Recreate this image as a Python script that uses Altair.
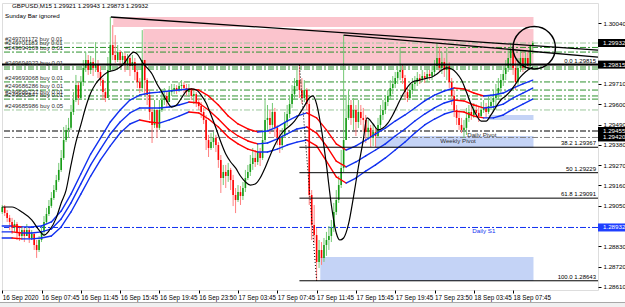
import altair as alt
import pandas as pd

FONT = "Liberation Sans"

# ---------------- price data (GBPUSD M15), bar index 0..216 ----------------
first_open = 1.29016
closes = [
    1.29043, 1.29011, 1.28984, 1.28962, 1.28930, 1.28951, 1.28907, 1.28886, 1.28918, 1.28886,
    1.28918, 1.28875, 1.28897, 1.28837, 1.28810, 1.28864, 1.28907, 1.28962, 1.29005, 1.29049,
    1.29092, 1.29135, 1.29189, 1.29244, 1.29309, 1.29406, 1.29461, 1.29472, 1.29558, 1.29623,
    1.29704, 1.29634, 1.29720, 1.29797, 1.29840, 1.29786, 1.29829, 1.29797, 1.29818, 1.29775,
    1.29731, 1.29666, 1.29634, 1.29786, 1.29921, 1.29867, 1.29840, 1.29883, 1.29840, 1.29862,
    1.29818, 1.29851, 1.29808, 1.29829, 1.29775, 1.29720, 1.29688, 1.29840, 1.29731, 1.29650,
    1.29558, 1.29488, 1.29569, 1.29472, 1.29569, 1.29623, 1.29645, 1.29612, 1.29666, 1.29677,
    1.29688, 1.29677, 1.29699, 1.29704, 1.29688, 1.29666, 1.29677, 1.29645, 1.29655, 1.29612,
    1.29590, 1.29558, 1.29515, 1.29406, 1.29363, 1.29395, 1.29418, 1.29379, 1.29298, 1.29200,
    1.29233, 1.29211, 1.29244, 1.29189, 1.29108, 1.29081, 1.29124, 1.29103, 1.29146, 1.29200,
    1.29233, 1.29276, 1.29309, 1.29287, 1.29341, 1.29309, 1.29406, 1.29515, 1.29526, 1.29488,
    1.29558, 1.29472, 1.29418, 1.29379, 1.29428, 1.29504, 1.29547, 1.29601, 1.29655, 1.29699,
    1.29731, 1.29677, 1.29634, 1.29677, 1.29601, 1.29108, 1.28946, 1.28891, 1.28745, 1.28810,
    1.28767, 1.28837, 1.28864, 1.28886, 1.28930, 1.29016, 1.29081, 1.29162, 1.29255, 1.29406,
    1.29526, 1.29596, 1.29526, 1.29569, 1.29504, 1.29558, 1.29526, 1.29515, 1.29450, 1.29472,
    1.29418, 1.29450, 1.29428, 1.29488, 1.29542, 1.29569, 1.29612, 1.29645, 1.29688, 1.29710,
    1.29742, 1.29775, 1.29786, 1.29742, 1.29666, 1.29634, 1.29677, 1.29710, 1.29720, 1.29742,
    1.29731, 1.29753, 1.29742, 1.29764, 1.29753, 1.29775, 1.29807, 1.29851, 1.29797, 1.29829,
    1.29786, 1.29807, 1.29720, 1.29645, 1.29569, 1.29526, 1.29488, 1.29461, 1.29472, 1.29526,
    1.29558, 1.29542, 1.29569, 1.29553, 1.29536, 1.29569, 1.29580, 1.29558, 1.29590, 1.29612,
    1.29634, 1.29655, 1.29688, 1.29731, 1.29764, 1.29797, 1.29851, 1.29894, 1.29797, 1.29720,
    1.29797, 1.29851, 1.29797, 1.29851, 1.29807, 1.29921, 1.29932]
highs = [
    1.29054, 1.29054, 1.29027, 1.29000, 1.28984, 1.28973, 1.28962, 1.28930, 1.28940, 1.28930,
    1.28951, 1.28930, 1.28918, 1.28908, 1.28864, 1.28886, 1.28940, 1.28994, 1.29038, 1.29081,
    1.29124, 1.29162, 1.29217, 1.29282, 1.29352, 1.29477, 1.29488, 1.29526, 1.29596, 1.29666,
    1.29759, 1.29720, 1.29753, 1.29840, 1.29883, 1.29867, 1.29862, 1.29851, 1.29937, 1.29840,
    1.29807, 1.29742, 1.29688, 1.29856, 1.30073, 1.30029, 1.29975, 1.29921, 1.29894, 1.29883,
    1.29878, 1.29872, 1.29862, 1.29867, 1.29851, 1.29786, 1.29742, 1.30002, 1.29829, 1.29742,
    1.29677, 1.29580, 1.29623, 1.29569, 1.29623, 1.29677, 1.29688, 1.29666, 1.29699, 1.29710,
    1.29710, 1.29704, 1.29720, 1.29731, 1.29720, 1.29710, 1.29710, 1.29688, 1.29677, 1.29666,
    1.29634, 1.29612, 1.29580, 1.29542, 1.29434, 1.29444, 1.29450, 1.29434, 1.29395, 1.29325,
    1.29271, 1.29271, 1.29282, 1.29255, 1.29217, 1.29146, 1.29162, 1.29157, 1.29179, 1.29244,
    1.29271, 1.29325, 1.29363, 1.29352, 1.29390, 1.29363, 1.29461, 1.29623, 1.29596, 1.29569,
    1.29607, 1.29580, 1.29488, 1.29461, 1.29471, 1.29558, 1.29596, 1.29645, 1.29704, 1.29742,
    1.29786, 1.29815, 1.29742, 1.29731, 1.29688, 1.29623, 1.29135, 1.29054, 1.28929, 1.28864,
    1.28853, 1.28875, 1.28908, 1.28940, 1.28973, 1.29065, 1.29135, 1.29211, 1.29352, 1.29975,
    1.29650, 1.29677, 1.29623, 1.29634, 1.29596, 1.29623, 1.29596, 1.29580, 1.29542, 1.29515,
    1.29488, 1.29493, 1.29471, 1.29526, 1.29596, 1.29623, 1.29650, 1.29677, 1.29731, 1.29753,
    1.29775, 1.29807, 1.29910, 1.29813, 1.29759, 1.29688, 1.29704, 1.29742, 1.29753, 1.29775,
    1.29764, 1.29786, 1.29775, 1.29786, 1.29786, 1.29807, 1.29840, 1.29932, 1.29910, 1.29883,
    1.29851, 1.29905, 1.29829, 1.29742, 1.29677, 1.29596, 1.29569, 1.29526, 1.29515, 1.29580,
    1.29596, 1.29596, 1.29607, 1.29601, 1.29590, 1.29612, 1.29623, 1.29607, 1.29645, 1.29655,
    1.29677, 1.29710, 1.29742, 1.29764, 1.29807, 1.29840, 1.29905, 1.29932, 1.29910, 1.29840,
    1.29851, 1.29894, 1.29883, 1.29894, 1.29883, 1.29905, 1.29943]
lows = [
    1.29005, 1.28994, 1.28962, 1.28918, 1.28897, 1.28908, 1.28864, 1.28859, 1.28875, 1.28853,
    1.28886, 1.28848, 1.28864, 1.28810, 1.28767, 1.28799, 1.28853, 1.28886, 1.28951, 1.28994,
    1.29038, 1.29081, 1.29124, 1.29179, 1.29233, 1.29298, 1.29395, 1.29417, 1.29461, 1.29542,
    1.29612, 1.29596, 1.29623, 1.29699, 1.29775, 1.29759, 1.29764, 1.29753, 1.29775, 1.29742,
    1.29699, 1.29623, 1.29612, 1.29634, 1.29775, 1.29840, 1.29824, 1.29829, 1.29797, 1.29807,
    1.29775, 1.29786, 1.29753, 1.29786, 1.29731, 1.29688, 1.29661, 1.29666, 1.29650, 1.29596,
    1.29515, 1.29390, 1.29471, 1.29417, 1.29461, 1.29558, 1.29596, 1.29580, 1.29623, 1.29645,
    1.29655, 1.29655, 1.29666, 1.29677, 1.29661, 1.29645, 1.29639, 1.29623, 1.29601, 1.29585,
    1.29569, 1.29526, 1.29493, 1.29352, 1.29314, 1.29352, 1.29363, 1.29341, 1.29255, 1.29119,
    1.29162, 1.29146, 1.29179, 1.29135, 1.29048, 1.29010, 1.29070, 1.29054, 1.29081, 1.29124,
    1.29189, 1.29211, 1.29244, 1.29260, 1.29271, 1.29265, 1.29298, 1.29395, 1.29461, 1.29439,
    1.29471, 1.29422, 1.29379, 1.29336, 1.29352, 1.29417, 1.29482, 1.29526, 1.29580, 1.29623,
    1.29677, 1.29634, 1.29601, 1.29612, 1.29569, 1.29054, 1.28864, 1.28848, 1.28643, 1.28712,
    1.28729, 1.28745, 1.28778, 1.28810, 1.28853, 1.28908, 1.29000, 1.29065, 1.29146, 1.29233,
    1.29406, 1.29515, 1.29488, 1.29461, 1.29428, 1.29471, 1.29488, 1.29450, 1.29390, 1.29406,
    1.29368, 1.29374, 1.29368, 1.29417, 1.29471, 1.29515, 1.29547, 1.29590, 1.29623, 1.29655,
    1.29688, 1.29710, 1.29731, 1.29710, 1.29623, 1.29612, 1.29623, 1.29655, 1.29677, 1.29699,
    1.29710, 1.29721, 1.29715, 1.29721, 1.29731, 1.29731, 1.29753, 1.29786, 1.29775, 1.29764,
    1.29748, 1.29731, 1.29688, 1.29596, 1.29531, 1.29488, 1.29461, 1.29444, 1.29417, 1.29434,
    1.29504, 1.29515, 1.29526, 1.29526, 1.29504, 1.29526, 1.29553, 1.29526, 1.29547, 1.29569,
    1.29558, 1.29569, 1.29623, 1.29655, 1.29699, 1.29731, 1.29775, 1.29807, 1.29759, 1.29677,
    1.29699, 1.29775, 1.29775, 1.29786, 1.29786, 1.29797, 1.29873]

# ---------------- moving-average ribbon (3 lines), read every 4 bars ----------------
rib_bars = list(range(0, 217, 4))
rib_up = [
    1.28940, 1.28940, 1.28935, 1.28935, 1.28940, 1.28962, 1.29021, 1.29113, 1.29222, 1.29330,
    1.29417, 1.29504, 1.29569, 1.29623, 1.29650, 1.29661, 1.29666, 1.29672, 1.29677, 1.29683,
    1.29677, 1.29645, 1.29596, 1.29536, 1.29493, 1.29466, 1.29450, 1.29455, 1.29477, 1.29509,
    1.29536, 1.29553, 1.29526, 1.29461, 1.29385, 1.29352, 1.29374, 1.29406, 1.29439, 1.29471,
    1.29509, 1.29542, 1.29580, 1.29618, 1.29650, 1.29672, 1.29688, 1.29683, 1.29661, 1.29645,
    1.29650, 1.29661, 1.29688, 1.29710, 1.29731]
rib_mid = [
    1.28908, 1.28908, 1.28902, 1.28902, 1.28908, 1.28924, 1.28978, 1.29065, 1.29168, 1.29271,
    1.29357, 1.29439, 1.29504, 1.29553, 1.29580, 1.29580, 1.29580, 1.29585, 1.29596, 1.29612,
    1.29607, 1.29569, 1.29520, 1.29466, 1.29428, 1.29401, 1.29385, 1.29390, 1.29412, 1.29439,
    1.29466, 1.29477, 1.29444, 1.29374, 1.29292, 1.29260, 1.29287, 1.29320, 1.29352, 1.29385,
    1.29428, 1.29466, 1.29509, 1.29547, 1.29580, 1.29607, 1.29623, 1.29618, 1.29596, 1.29580,
    1.29585, 1.29601, 1.29634, 1.29661, 1.29688]
rib_low = [
    1.28875, 1.28875, 1.28870, 1.28870, 1.28875, 1.28886, 1.28935, 1.29016, 1.29113, 1.29211,
    1.29298, 1.29374, 1.29444, 1.29493, 1.29515, 1.29504, 1.29498, 1.29515, 1.29536, 1.29558,
    1.29553, 1.29520, 1.29477, 1.29422, 1.29385, 1.29357, 1.29341, 1.29341, 1.29357, 1.29379,
    1.29395, 1.29406, 1.29374, 1.29292, 1.29206, 1.29173, 1.29200, 1.29238, 1.29271, 1.29309,
    1.29352, 1.29395, 1.29444, 1.29488, 1.29520, 1.29547, 1.29563, 1.29558, 1.29536, 1.29526,
    1.29526, 1.29542, 1.29574, 1.29601, 1.29628]

# ---------------- fast moving average (black) ----------------
ma_bars = [0, 4, 8, 12, 15, 17, 19, 22, 24, 26,
           28, 30, 32, 34, 36, 38, 40, 43, 46, 48,
           50, 52, 53.5, 55, 57, 59, 61, 63, 65, 67,
           69, 71, 73, 75, 77, 79, 81, 83, 85, 87,
           89, 91, 93, 95, 97, 99, 101, 103, 105, 107,
           109, 111, 113, 115, 117, 119, 121, 123, 125, 126.5,
           128, 130, 132, 134, 136, 137.5, 139, 141, 143, 145,
           147, 148.5, 151, 153, 155, 157, 159, 161, 163, 165,
           167, 170, 173, 175, 177, 179, 181, 183, 185, 187,
           189, 191, 193, 195, 197, 199, 201, 203, 205, 207,
           209, 211, 213, 216]
ma_vals = [1.29043, 1.29043, 1.29016, 1.28973, 1.28918, 1.28891, 1.28913, 1.28984, 1.29065, 1.29135,
           1.29271, 1.29395, 1.29488, 1.29585, 1.29661, 1.29710, 1.29742, 1.29775, 1.29786, 1.29802,
           1.29829, 1.29867, 1.29883, 1.29872, 1.29829, 1.29797, 1.29764, 1.29710, 1.29666, 1.29618,
           1.29585, 1.29596, 1.29634, 1.29672, 1.29683, 1.29677, 1.29650, 1.29607, 1.29542, 1.29471,
           1.29395, 1.29330, 1.29287, 1.29255, 1.29211, 1.29179, 1.29162, 1.29168, 1.29200, 1.29255,
           1.29320, 1.29379, 1.29428, 1.29461, 1.29482, 1.29509, 1.29547, 1.29590, 1.29634, 1.29645,
           1.29601, 1.29461, 1.29271, 1.29054, 1.28902, 1.28864, 1.28875, 1.28951, 1.29097, 1.29260,
           1.29406, 1.29526, 1.29493, 1.29461, 1.29471, 1.29498, 1.29542, 1.29596, 1.29650, 1.29693,
           1.29721, 1.29731, 1.29742, 1.29748, 1.29764, 1.29786, 1.29797, 1.29791, 1.29769, 1.29731,
           1.29666, 1.29596, 1.29542, 1.29509, 1.29509, 1.29542, 1.29585, 1.29623, 1.29645, 1.29672,
           1.29710, 1.29748, 1.29775, 1.29802]

# ---------------- objects ----------------
zone_start = [45.2, 57.4, 129.5, 152.0, 198.0]
zone_end = [216.3, 216.3, 216.3, 216.3, 216.3]
zone_top = [1.30073, 1.30008, 1.28772, 1.29428, 1.29542]
zone_bottom = [1.30019, 1.29824, 1.28642, 1.29363, 1.29515]
zone_kind = ["supply", "supply", "demand", "demand", "demand"]

order_prices = [1.29932, 1.29908, 1.29883, 1.29802, 1.29791, 1.29721, 1.29677, 1.29645, 1.29628, 1.29569]
order_shade = ["light", "dark", "dark", "dark", "dark", "dark", "dark", "dark", "dark", "light"]
order_labels = ["#249701172 buy 0.01", "#249701183 buy 0.01", "#249694109 buy 0.01",
                "#249694923 buy 0.01", "#249693068 buy 0.01", "#249686286 buy 0.01",
                "#249686237 buy 0.01", "#249685847 buy 0.01", "#249685986 buy 0.05"]
order_label_prices = [1.29932, 1.29908, 1.29883, 1.29802, 1.29721, 1.29677, 1.29645, 1.29628, 1.29569]

pivot_names = ["Daily Pivot", "Weekly Pivot", "Daily S1"]
pivot_prices = [1.29455, 1.29420, 1.28932]
pivot_label_bars = [189.3, 178.3, 191.4]

fib_levels = ["0.0", "38.2", "50", "61.8", "100.0"]
fib_prices = [1.29815, 1.29367, 1.29229, 1.29091, 1.28643]
fib_anchor_bars = [121, 128]

trend_start_bar = [44.2, 139.0]
trend_start_price = [1.30073, 1.29975]
trend_end_bar = [242.57, 242.57]
trend_end_price = [1.29894, 1.29856]

circle_bar = [216.6]
circle_price = [1.29906]

box_prices = [1.29932, 1.29815, 1.29455, 1.29420, 1.28932]
box_kind = ["black", "black", "black", "black", "blue"]

time_label_bars = [0, 16, 32, 48, 64, 80, 96, 112, 128, 144, 160, 176, 192, 208]
time_labels = ["16 Sep 2020", "16 Sep 07:45", "16 Sep 11:45", "16 Sep 15:45", "16 Sep 19:45",
               "16 Sep 23:50", "17 Sep 03:45", "17 Sep 07:45", "17 Sep 11:45", "17 Sep 15:45",
               "17 Sep 19:45", "17 Sep 23:50", "18 Sep 03:45", "18 Sep 07:45"]
price_ticks = [1.30040, 1.29710, 1.29600, 1.29490, 1.29380, 1.29270,
               1.29160, 1.29050, 1.28830, 1.28720, 1.28610]

header_text = "GBPUSD,M15  1.29921 1.29943 1.29873 1.29932"
sub_header = "Sunday Bar ignored"

# ---------------- tables ----------------
n = len(closes)
opens = [first_open] + closes[:-1]
df = pd.DataFrame({"bar": list(range(n)), "open": opens, "close": closes,
                   "high": highs, "low": lows})
df["high"] = df[["high", "open", "close"]].max(axis=1)
df["low"] = df[["low", "open", "close"]].min(axis=1)
up = df["close"] >= df["open"]
df["body_c"] = up.map({True: "#169c16", False: "#ff0000"})
df["wick_c"] = up.map({True: "#74c874", False: "#ff7f7f"})

rib_rows = []
for vals in (rib_up, rib_mid, rib_low):
    for k in range(len(rib_bars) - 1):
        rib_rows.append({"x": rib_bars[k], "x2": rib_bars[k + 1], "y": vals[k], "y2": vals[k + 1],
                         "c": "#1030f0" if vals[k + 1] >= vals[k] else "#ff0000"})
rib_df = pd.DataFrame(rib_rows)
ma_df = pd.DataFrame({"bar": ma_bars, "v": ma_vals})

zone_df = pd.DataFrame({"x": zone_start, "x2": zone_end, "y": zone_top, "y2": zone_bottom,
                        "c": [{"supply": "#fbc4cd", "demand": "#c4d3f6"}[k] for k in zone_kind]})
order_df = pd.DataFrame({"p": order_prices,
                         "c": [{"light": "#9cc79c", "dark": "#2f932f"}[s] for s in order_shade]})
olab_df = pd.DataFrame({"p": order_label_prices, "t": order_labels})
fib_df = pd.DataFrame({"p": fib_prices, "t": [f"{a}  {b:.5f}" for a, b in zip(fib_levels, fib_prices)],
                       "x": [fib_anchor_bars[0]] * len(fib_prices), "x2": [trend_end_bar[0]] * len(fib_prices)})
fibtrend_df = pd.DataFrame({"x": [fib_anchor_bars[0]], "x2": [fib_anchor_bars[1]],
                            "y": [fib_prices[0]], "y2": [fib_prices[-1]]})
trend_df = pd.DataFrame({"x": trend_start_bar, "x2": trend_end_bar,
                         "y": trend_start_price, "y2": trend_end_price})
circ_df = pd.DataFrame({"bar": circle_bar, "p": circle_price})
piv_df = pd.DataFrame({"bar": pivot_label_bars, "p": pivot_prices, "t": pivot_names,
                       "c": ["#303030", "#303030", "#1030f0"]})
box_df = pd.DataFrame({"p": box_prices, "t": [f"{b:.5f}" for b in box_prices],
                       "c": [{"black": "#000000", "blue": "#1f3fff"}[k] for k in box_kind]})

# ---------------- scales & axes ----------------
X_DOM = [-0.1, 242.57]
Y_DOM = [1.28593, 1.30149]
xs = alt.Scale(domain=X_DOM, nice=False, zero=False)
ys = alt.Scale(domain=Y_DOM, nice=False, zero=False)

expr = "''"
for b, t in reversed(list(zip(time_label_bars, time_labels))):
    expr = f"datum.value == {b} ? '{t}' : ({expr})"

x_axis = alt.Axis(orient="bottom", values=time_label_bars, labelExpr=expr, labelAlign="left",
                  labelFont=FONT, labelFontSize=6.3, labelColor="#000", tickColor="#000",
                  tickSize=3, domain=False, grid=False, title=None, labelPadding=1,
                  labelOverlap=False, labelFlush=False)
y_axis = alt.Axis(orient="right", values=price_ticks, format=".5f", labelFont=FONT,
                  labelFontSize=6.2, labelColor="#000", tickColor="#000", tickSize=3,
                  domain=False, grid=False, title=None, labelPadding=2, labelOverlap=False)


def X(f):
    return alt.X(f, scale=xs, axis=x_axis)


def Y(f):
    return alt.Y(f, scale=ys, axis=y_axis)


zones = alt.Chart(zone_df).mark_rect().encode(
    x=X("x:Q"), x2="x2:Q", y=Y("y:Q"), y2="y2:Q", color=alt.Color("c:N", scale=None))

order_lines = alt.Chart(order_df).mark_rule(strokeWidth=1, strokeDash=[6, 2, 2, 2]).encode(
    y=Y("p:Q"), color=alt.Color("c:N", scale=None))
piv_black = alt.Chart(pd.DataFrame({"p": [pivot_prices[0]]})).mark_rule(
    strokeWidth=1, strokeDash=[6, 2, 2, 2], color="#000").encode(y=Y("p:Q"))
piv_gray = alt.Chart(pd.DataFrame({"p": [pivot_prices[1]]})).mark_rule(
    strokeWidth=1, strokeDash=[6, 2, 2, 2], color="#808080").encode(y=Y("p:Q"))
piv_blue = alt.Chart(pd.DataFrame({"p": [pivot_prices[2]]})).mark_rule(
    strokeWidth=1, strokeDash=[6, 2, 2, 2], color="#1030f0").encode(y=Y("p:Q"))

wicks = alt.Chart(df).mark_rule(strokeWidth=1).encode(
    x=X("bar:Q"), y=Y("low:Q"), y2="high:Q", color=alt.Color("wick_c:N", scale=None))
bodies = alt.Chart(df).mark_rule(strokeWidth=1.6).encode(
    x=X("bar:Q"), y=Y("open:Q"), y2="close:Q", color=alt.Color("body_c:N", scale=None))

ribbon = alt.Chart(rib_df).mark_rule(strokeWidth=1.4, strokeCap="round").encode(
    x=X("x:Q"), x2="x2:Q", y=Y("y:Q"), y2="y2:Q", color=alt.Color("c:N", scale=None))
fast_ma = alt.Chart(ma_df).mark_line(color="#000", strokeWidth=1.2, interpolate="monotone").encode(
    x=X("bar:Q"), y=Y("v:Q"))

fib0 = alt.Chart(pd.DataFrame({"p": [fib_prices[0]]})).mark_rule(
    strokeWidth=2, color="#000").encode(y=Y("p:Q"))
fib_lines = alt.Chart(fib_df).mark_rule(strokeWidth=1, color="#000").encode(
    x=X("x:Q"), x2="x2:Q", y=Y("p:Q"))
fib_trend = alt.Chart(fibtrend_df).mark_rule(strokeWidth=1, color="#000", strokeDash=[1, 2]).encode(
    x=X("x:Q"), x2="x2:Q", y=Y("y:Q"), y2="y2:Q")
fib_text = alt.Chart(fib_df).mark_text(font=FONT, fontSize=6, align="right", baseline="bottom",
                                       dy=-1, color="#000").encode(
    x=alt.value(594), y=Y("p:Q"), text="t:N")

trends = alt.Chart(trend_df).mark_rule(strokeWidth=1.3, color="#000").encode(
    x=X("x:Q"), x2="x2:Q", y=Y("y:Q"), y2="y2:Q")
circle = alt.Chart(circ_df).mark_point(shape="circle", size=1800, filled=False,
                                       strokeWidth=1.5, color="#000", opacity=1).encode(
    x=X("bar:Q"), y=Y("p:Q"))

olab = alt.Chart(olab_df).mark_text(font=FONT, fontSize=6, align="left", baseline="bottom",
                                    dy=-1, color="#303030").encode(
    x=alt.value(3), y=Y("p:Q"), text="t:N")
piv_text = alt.Chart(piv_df).mark_text(font=FONT, fontSize=6.2, align="left", baseline="top",
                                       dy=1).encode(
    x=X("bar:Q"), y=Y("p:Q"), text="t:N", color=alt.Color("c:N", scale=None))

boxes = alt.Chart(box_df).mark_rule(strokeWidth=8).encode(
    y=Y("p:Q"), x=alt.value(596), x2=alt.value(625), color=alt.Color("c:N", scale=None))
box_text = alt.Chart(box_df).mark_text(font=FONT, fontSize=6.2, align="left", baseline="middle",
                                       color="#fff").encode(
    x=alt.value(601), y=Y("p:Q"), text="t:N")

hdr1 = alt.Chart(pd.DataFrame({"t": [header_text]})).mark_text(
    font=FONT, fontSize=6.2, align="left", baseline="middle", color="#000").encode(
    x=alt.value(10), y=alt.value(3), text="t:N")
hdr2 = alt.Chart(pd.DataFrame({"t": [sub_header]})).mark_text(
    font=FONT, fontSize=6.2, align="left", baseline="middle", color="#000").encode(
    x=alt.value(3), y=alt.value(12.5), text="t:N")

# window chrome: tab strip under the time axis
tab_strip = alt.Chart(pd.DataFrame({"k": [0]})).mark_rect(
    fill="#f0f0f0", stroke="#a8a8a8", strokeWidth=1).encode(
    x=alt.value(-3), x2=alt.value(625), y=alt.value(299.5), y2=alt.value(306))

chart = alt.layer(
    zones, order_lines, piv_black, piv_gray, piv_blue,
    wicks, bodies, ribbon, fast_ma,
    fib0, fib_lines, fib_trend, trends, circle,
    olab, piv_text, fib_text, boxes, box_text, hdr1, hdr2, tab_strip,
).properties(
    width=596, height=287,
    padding={"left": 2, "top": 3, "right": 27, "bottom": 17},
    autosize=alt.AutoSizeParams(type="none"),
).configure_view(stroke="#000", strokeWidth=1).configure(background="#ffffff")

chart.save("out.html", embed_options={"renderer": "svg", "actions": False})
